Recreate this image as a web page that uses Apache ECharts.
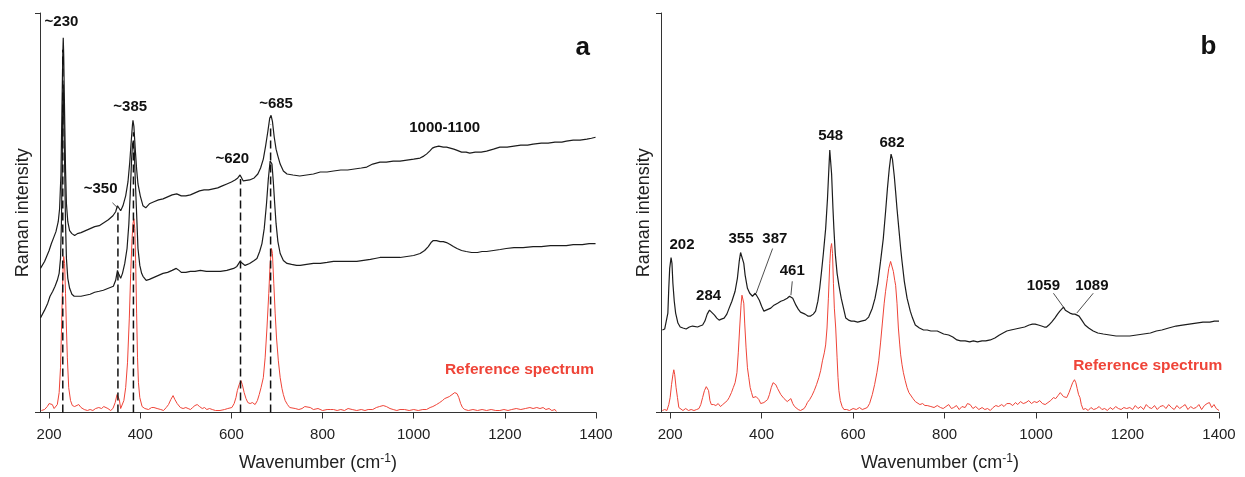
<!DOCTYPE html>
<html><head><meta charset="utf-8">
<script src="https://cdn.jsdelivr.net/npm/echarts@6/dist/echarts.min.js"></script>
<style>html,body{margin:0;padding:0;background:#fff}#c{width:1245px;height:477px}</style>
</head><body><div id="c"></div>
<script>
// ---------- DATA (wavenumber cm-1, intensity in arbitrary units) ----------
const xTicks = [200, 400, 600, 800, 1000, 1200, 1400];

// Panel a – upper black spectrum
const specA1 = [[181,145],[190,152],[200,163],[205,170],[210,176],[215,182],[220,192],[223,205],[226,240],[228,300],[230,360],[231,377],[232,360],[234,300],[236,245],[238,210],[241,192],[245,183],[250,180],[256,178],[262,180],[270,181],[280,183],[290,185],[300,187],[310,188],[320,191],[330,194],[340,198],[346,202],[350,208],[353,206],[357,203],[362,208],[368,218],[373,232],[377,252],[380,272],[383,290],[384,294],[386,288],[389,265],[392,245],[395,230],[400,218],[406,208],[412,206],[420,210],[430,212],[440,214],[450,215],[460,217],[470,219],[480,220],[490,218],[500,218],[510,219],[520,221],[530,223],[540,224],[550,224],[560,225],[570,226],[580,228],[590,230],[600,232],[608,234],[614,236],[619,239],[622,237],[626,233],[630,232],[640,234],[650,236],[658,240],[664,246],[670,255],[675,268],[680,283],[684,296],[687,299],[690,293],[694,277],[698,265],[702,258],[707,250],[714,243],[722,240],[735,239],[750,238],[765,239],[780,240],[795,242],[810,242],[824,243],[840,244],[855,244],[870,245],[885,246],[897,247],[910,250],[926,252],[940,252],[955,253],[970,253],[985,254],[1000,255],[1014,256],[1022,258],[1028,260],[1035,263],[1041,266],[1046,267],[1055,268],[1065,267],[1072,267],[1080,266],[1088,265],[1094,264],[1105,262],[1115,262],[1123,261],[1135,262],[1148,262],[1160,263],[1175,265],[1189,267],[1205,267],[1220,268],[1235,269],[1250,269],[1262,270],[1280,271],[1295,271],[1310,272],[1325,272],[1335,273],[1350,274],[1365,274],[1380,275],[1390,276],[1399,277]];

// Panel a – lower black spectrum
const specA2 = [[181,95],[190,103],[197,110],[202,117],[208,122],[213,127],[218,133],[222,140],[225,155],[227,190],[229,260],[230,320],[231,330],[232,310],[234,250],[236,190],[238,155],[241,135],[245,125],[250,119],[255,117],[260,117],[270,117],[280,118],[290,119],[300,121],[310,122],[319,123],[330,125],[341,127],[346,133],[350,143],[353,139],[357,135],[361,140],[366,150],[371,165],[375,190],[378,220],[381,255],[383,270],[385,273],[387,262],[389,235],[392,200],[395,165],[399,148],[403,140],[406,137],[413,133],[420,134],[430,136],[440,138],[450,140],[460,141],[470,143],[479,145],[485,143],[490,141],[500,141],[510,142],[520,142],[532,143],[545,142],[560,142],[576,142],[590,143],[605,145],[612,147],[619,152],[623,150],[630,148],[640,150],[650,153],[656,155],[662,162],[667,170],[672,185],[677,210],[681,235],[685,253],[687,255],[689,250],[692,232],[695,210],[698,190],[702,172],[707,160],[714,153],[722,150],[732,149],[743,148],[751,148],[765,149],[780,150],[795,150],[810,151],[824,152],[840,152],[855,152],[875,152],[890,153],[905,154],[915,155],[926,156],[940,156],[955,156],[970,156],[985,157],[1000,158],[1014,160],[1024,163],[1032,167],[1038,171],[1043,173],[1050,173],[1058,172],[1065,172],[1072,171],[1080,169],[1087,167],[1095,165],[1105,163],[1115,162],[1127,161],[1140,161],[1150,162],[1160,162],[1175,163],[1190,164],[1203,165],[1220,166],[1240,166],[1262,167],[1280,167],[1300,168],[1320,168],[1335,168],[1350,169],[1370,169],[1385,170],[1399,170]];

// Panel a – red reference spectrum
const specA3 = [[183,2],[190,3],[196,6],[200,9],[203,10],[207,8],[211,4],[214,5],[218,8],[222,20],[225,45],[227,80],[229,120],[231,150],[232,157],[234,150],[236,120],[238,85],[240,55],[243,25],[247,12],[251,7],[256,6],[260,7],[265,8],[270,5],[277,3],[284,2],[290,3],[296,2],[302,4],[309,5],[315,4],[320,6],[324,7],[329,4],[335,2],[340,4],[345,10],[349,18],[351,20],[354,13],[357,4],[360,5],[364,12],[368,25],[372,50],[376,95],[379,140],[382,175],[384,190],[386,195],[388,185],[390,150],[392,100],[394,55],[396,30],[399,15],[404,6],[410,4],[418,3],[425,5],[430,5],[437,4],[445,3],[451,2],[457,5],[462,8],[467,13],[472,17],[476,13],[481,9],[488,5],[494,4],[500,5],[505,4],[510,3],[515,5],[520,7],[525,8],[530,6],[536,4],[541,5],[546,3],[552,4],[558,3],[565,2],[575,2],[585,3],[592,4],[601,5],[606,9],[610,15],[613,22],[617,28],[621,32],[624,28],[628,20],[632,14],[636,10],[641,9],[646,10],[652,8],[657,12],[661,18],[665,25],[670,35],[674,55],[678,85],[682,120],[685,150],[688,165],[690,160],[693,130],[696,100],[699,75],[703,52],[707,35],[711,24],[714,18],[718,12],[723,8],[728,5],[732,3],[740,4],[748,3],[755,4],[761,6],[765,5],[773,5],[780,3],[790,4],[800,2],[810,3],[818,3],[824,3],[832,2],[840,3],[848,2],[856,4],[865,3],[875,2],[885,3],[893,2],[900,3],[910,3],[918,5],[925,6],[933,7],[940,6],[948,4],[955,3],[963,2],[970,3],[980,3],[990,2],[1000,3],[1010,2],[1020,3],[1028,3],[1036,5],[1042,6],[1050,8],[1057,10],[1063,12],[1068,14],[1072,15],[1078,16],[1084,18],[1090,20],[1095,19],[1099,15],[1103,9],[1107,5],[1112,3],[1120,2],[1130,3],[1140,2],[1150,3],[1160,2],[1170,3],[1180,2],[1189,2],[1198,3],[1207,2],[1215,3],[1225,4],[1235,3],[1245,4],[1255,5],[1262,4],[1270,5],[1277,4],[1284,5],[1290,3],[1297,4],[1303,2],[1310,3],[1313,1]];

// Panel b – black spectrum
const specB1 = [[183,83],[188,84],[192,86],[195,100],[197,125],[199,145],[202,156],[204,150],[206,130],[209,112],[212,100],[217,90],[222,86],[228,85],[235,84],[242,86],[249,87],[253,85],[260,86],[265,87],[271,88],[276,92],[281,99],[286,103],[290,101],[297,98],[302,95],[307,93],[312,94],[318,95],[324,99],[329,105],[335,112],[342,122],[347,135],[351,152],[354,161],[356,163],[358,160],[361,150],[364,138],[369,125],[374,120],[380,117],[384,119],[386,120],[390,117],[395,113],[400,107],[405,102],[410,103],[415,104],[420,105],[427,108],[435,110],[442,112],[448,113],[456,115],[461,117],[464,118],[468,115],[472,111],[475,108],[480,104],[485,101],[489,100],[495,99],[501,97],[507,97],[513,99],[518,102],[523,112],[527,125],[531,142],[535,160],[540,185],[544,215],[547,245],[549,264],[551,262],[553,240],[556,205],[558,185],[561,160],[565,140],[569,128],[574,115],[579,105],[584,95],[590,93],[596,92],[602,92],[610,91],[618,92],[627,93],[634,96],[642,105],[648,115],[654,130],[660,152],[666,175],[671,202],[675,225],[679,245],[683,260],[686,255],[690,238],[693,222],[696,205],[700,185],[704,165],[707,152],[712,132],[718,115],[725,102],[730,95],[736,88],[745,85],[754,83],[762,83],[770,82],[784,82],[798,79],[809,78],[818,76],[827,73],[835,72],[845,72],[855,71],[863,72],[872,71],[882,72],[890,72],[900,73],[910,75],[920,78],[928,80],[936,82],[945,83],[955,84],[965,85],[975,86],[985,88],[992,89],[998,89],[1005,88],[1012,87],[1018,86],[1023,86],[1028,88],[1034,91],[1041,95],[1047,99],[1052,102],[1056,104],[1060,106],[1064,103],[1068,101],[1074,100],[1080,99],[1085,99],[1089,99],[1094,97],[1100,93],[1107,88],[1115,85],[1125,82],[1135,80],[1147,79],[1161,78],[1175,77],[1190,77],[1205,77],[1220,78],[1235,79],[1250,80],[1263,82],[1275,83],[1290,85],[1306,87],[1320,88],[1335,89],[1350,90],[1365,91],[1380,91],[1390,92],[1400,92]];

// Panel b – red reference spectrum
const specB2 = [[183,2],[188,3],[193,2],[197,8],[200,15],[203,28],[206,38],[208,43],[210,38],[213,25],[216,15],[219,5],[223,3],[228,2],[234,4],[240,2],[246,3],[252,2],[258,3],[263,4],[267,8],[271,15],[275,22],[279,26],[281,27],[284,22],[287,12],[290,8],[295,8],[300,7],[305,9],[310,6],[315,8],[320,10],[325,12],[329,15],[334,20],[338,25],[342,30],[346,40],[349,60],[352,85],[355,108],[357,118],[359,120],[361,110],[363,90],[366,65],[369,45],[372,35],[375,25],[378,20],[381,15],[384,13],[388,16],[391,18],[394,13],[398,9],[401,7],[405,10],[409,12],[413,13],[417,18],[421,25],[425,30],[428,32],[431,28],[435,24],[438,22],[442,18],[446,16],[449,14],[452,13],[456,11],[460,13],[464,14],[468,9],[472,6],[475,5],[480,3],[485,2],[489,3],[493,4],[497,7],[500,10],[505,13],[510,17],[515,22],[520,28],[525,35],[529,42],[533,52],[537,60],[540,68],[543,85],[546,115],[549,150],[551,165],[553,170],[555,160],[557,130],[559,105],[562,85],[565,55],[567,35],[569,22],[572,12],[576,6],[580,3],[586,3],[592,2],[600,4],[607,3],[614,5],[620,3],[626,4],[631,5],[636,9],[642,18],[647,28],[652,40],[656,52],[660,70],[664,90],[668,110],[671,122],[675,135],[678,145],[682,152],[685,150],[688,142],[691,133],[693,128],[696,110],[699,85],[702,68],[704,58],[707,48],[710,40],[714,32],[718,25],[722,20],[726,18],[731,14],[736,11],[740,10],[746,8],[752,9],[757,7],[762,7],[770,6],[777,5],[784,7],[791,5],[797,4],[803,6],[809,8],[815,4],[820,5],[826,7],[832,3],[838,6],[845,5],[850,9],[856,8],[862,4],[868,6],[875,3],[882,5],[888,3],[894,4],[900,2],[906,5],[912,7],[918,6],[925,8],[930,6],[936,9],[943,9],[949,7],[955,10],[960,8],[966,11],[972,9],[978,10],[984,12],[990,9],[996,11],[1002,10],[1008,12],[1014,9],[1020,8],[1026,10],[1032,12],[1038,15],[1043,14],[1048,17],[1053,20],[1056,18],[1060,16],[1064,14],[1067,15],[1072,20],[1076,25],[1080,30],[1084,33],[1087,30],[1090,24],[1093,18],[1096,15],[1099,8],[1103,3],[1108,4],[1114,2],[1120,5],[1126,3],[1132,4],[1138,6],[1144,3],[1150,4],[1156,2],[1162,5],[1168,3],[1174,6],[1180,4],[1186,3],[1192,5],[1198,4],[1205,5],[1211,3],[1217,7],[1223,4],[1229,6],[1235,3],[1241,8],[1247,5],[1253,4],[1259,7],[1265,3],[1271,6],[1278,7],[1284,4],[1290,8],[1296,5],[1302,3],[1308,7],[1314,4],[1320,6],[1326,8],[1332,3],[1338,6],[1344,4],[1350,5],[1356,8],[1362,3],[1368,7],[1374,9],[1379,10],[1384,5],[1389,8],[1394,4],[1400,2]];

// Dashed peak markers in panel a: [wavenumber, top intensity]
const dashA = [[230,365],[351,205],[385,282],[620,235],[686,290]];

// Leader lines: [[x1,y1],[x2,y2]]
const leadersA = [[[339,211],[350,206]]];
const leadersB = [[[424,165],[388,120]],[[467,132],[464,118]],[[1038,120],[1060,106]],[[1125,120],[1089,100]]];

// Peak labels: [text, x, y]
const labelsA = [['~230',227,393],['~385',378,308],['~350',313,225],['~620',602,255],['~685',698,311],['1000-1100',1068,286]];
const labelsB = [['202',226,169],['284',284,117],['355',355,175],['387',429,175],['461',467,143],['548',551,278],['682',685,271],['1059',1016,127],['1089',1122,127]];
const refLabelA = ['Reference spectrum',1232,43];
const refLabelB = ['Reference spectrum',1244,47];
const panelA = ['a',1371,367];
const panelB = ['b',1377,368];

// ---------- CHART ----------
const FONT = '"Liberation Sans", Arial, sans-serif';
const BLACK = '#1c1c1c';
const RED = '#ef4438';
const AXIS = '#333';

function xAx(grid) {
  return {
    type: 'value', gridIndex: grid, min: 180, max: 1400,
    name: 'Wavenumber (cm{sup|-1})', nameLocation: 'middle', nameGap: 40,
    nameTextStyle: { fontFamily: FONT, fontSize: 18, color: '#222',
      rich: { sup: { fontFamily: FONT, fontSize: 12, color: '#222', verticalAlign: 'bottom', padding: [0, 0, 9, 0] } } },
    axisLine: { lineStyle: { color: AXIS, width: 1 } },
    axisTick: { customValues: xTicks, length: 6, lineStyle: { color: AXIS } },
    axisLabel: { customValues: xTicks, fontFamily: FONT, fontSize: 15, color: '#222', margin: 15,
      formatter: v => String(v) },
    splitLine: { show: false }
  };
}
function yAx(grid) {
  return {
    type: 'value', gridIndex: grid, min: 0, max: 402,
    name: 'Raman intensity', nameLocation: 'middle', nameGap: 8,
    nameTextStyle: { fontFamily: FONT, fontSize: 18, color: '#222' },
    axisLine: { show: true, lineStyle: { color: AXIS, width: 1 } },
    axisTick: { show: true, customValues: [0, 402], length: 5, lineStyle: { color: AXIS } },
    axisLabel: { show: false },
    splitLine: { show: false }
  };
}
function spec(data, color, ax, w) {
  return { type: 'line', data: data, xAxisIndex: ax, yAxisIndex: ax, showSymbol: false, symbol: 'none',
    lineStyle: { color: color, width: w }, silent: true, z: 3 };
}
function seg(pts, ax, style) {
  return { type: 'line', data: pts, xAxisIndex: ax, yAxisIndex: ax, showSymbol: false, symbol: 'none',
    lineStyle: style, silent: true, z: 4 };
}
function labels(list, ax, size, color) {
  return { type: 'scatter', xAxisIndex: ax, yAxisIndex: ax, symbolSize: 1, silent: true, z: 6,
    itemStyle: { color: 'rgba(0,0,0,0)' },
    data: list.map(l => ({ value: [l[1], l[2]], name: l[0] })),
    label: { show: true, position: 'inside', formatter: p => p.name, opacity: 1,
      textBorderWidth: 0, textBorderColor: 'transparent', textShadowBlur: 0,
      fontFamily: FONT, fontWeight: 'bold', fontSize: size, color: color } };
}

const series = [];
series.push(spec(specA1, BLACK, 0, 1.2), spec(specA2, BLACK, 0, 1.2), spec(specA3, RED, 0, 1));
dashA.forEach(d => series.push(seg([[d[0], 0], [d[0], d[1]]], 0, { color: '#111', width: 1.5, type: [8, 4] })));
leadersA.forEach(l => series.push(seg(l, 0, { color: '#222', width: 0.8 })));
series.push(labels(labelsA, 0, 15, '#111'));
series.push(labels([refLabelA], 0, 15.5, RED));
series.push(labels([panelA], 0, 26, '#111'));

series.push(spec(specB1, BLACK, 1, 1.2), spec(specB2, RED, 1, 1));
leadersB.forEach(l => series.push(seg(l, 1, { color: '#222', width: 0.8 })));
series.push(labels(labelsB, 1, 15, '#111'));
series.push(labels([refLabelB], 1, 15.5, RED));
series.push(labels([panelB], 1, 26, '#111'));

const chart = echarts.init(document.getElementById('c'), null, { renderer: 'canvas' });
chart.setOption({
  animation: false,
  backgroundColor: '#fff',
  grid: [
    { left: 40, right: 649, top: 13, bottom: 62 },
    { left: 661, right: 26, top: 13, bottom: 62 }
  ],
  xAxis: [xAx(0), xAx(1)],
  yAxis: [yAx(0), yAx(1)],
  series: series
});
</script></body></html>
